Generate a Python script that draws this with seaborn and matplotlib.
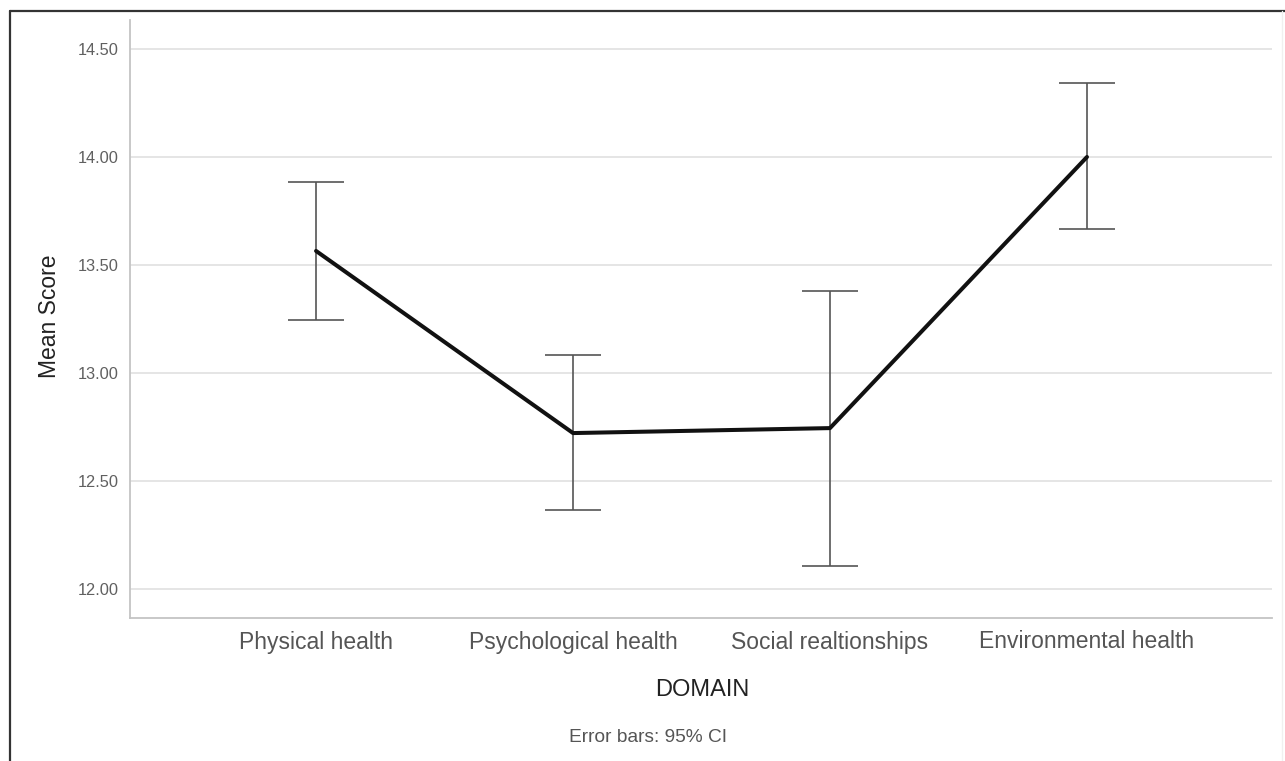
import matplotlib
matplotlib.use("Agg")
import matplotlib.pyplot as plt
import seaborn as sns
import pandas as pd
from matplotlib.lines import Line2D

domains = ["Physical health", "Psychological health", "Social realtionships", "Environmental health"]
mean_score = [13.565, 12.722, 12.745, 14.00]
ci_low = [13.245, 12.366, 12.106, 13.667]
ci_high = [13.884, 13.083, 13.380, 14.343]
yticks = [12.00, 12.50, 13.00, 13.50, 14.00, 14.50]

sns.set_theme(style="white")
plt.rcParams['font.family'] = ['Liberation Sans', 'DejaVu Sans']

W, H = 1285, 761
fig = plt.figure(figsize=(W / 100, H / 100), dpi=100)
ax = fig.add_axes([130 / W, 1 - 618 / H, (1272 - 130) / W, (618 - 20) / H])

df = pd.DataFrame({"pos": range(len(domains)), "mean": mean_score, "lo": ci_low, "hi": ci_high})

ax.errorbar(df["pos"], df["mean"],
            yerr=[df["mean"] - df["lo"], df["hi"] - df["mean"]],
            fmt="none", ecolor="#555555", elinewidth=1.2, capsize=20, capthick=1.2, zorder=2)
sns.lineplot(data=df, x="pos", y="mean", ax=ax, color="#111111", linewidth=2.9, zorder=3)

ax.set_xlim(-0.724, 3.72)
ax.set_ylim(11.866, 14.634)
ax.set_yticks(yticks)
ax.set_yticklabels([f"{v:.2f}" for v in yticks])
ax.set_xticks(range(len(domains)))
ax.set_xticklabels(domains)
ax.yaxis.grid(True, color="#e0e0e0", linewidth=1.2)
ax.xaxis.grid(False)
ax.tick_params(axis="y", labelsize=11.8, labelcolor="#606060", length=0, pad=8)
ax.tick_params(axis="x", labelsize=16.5, labelcolor="#555555", length=0, pad=9)
for s in ["top", "right"]:
    ax.spines[s].set_visible(False)
for s in ["left", "bottom"]:
    ax.spines[s].set_color("#c4c4c4")
    ax.spines[s].set_linewidth(1.3)

ax.set_xlabel("")
ax.set_ylabel("")
fig.text(49 / W, 1 - 316 / H, "Mean Score", rotation=90, ha="center", va="center", fontsize=16.5, color="#222222")
fig.text(702 / W, 1 - 690 / H, "DOMAIN", ha="center", va="center", fontsize=17, color="#222222")
fig.text(648 / W, 1 - 737 / H, "Error bars: 95% CI", ha="center", va="center", fontsize=13.8, color="#555555")

# frame: dark top and left, faint right
x0, xr, yt = 9.5 / W, 1282 / W, 1 - 10.5 / H
fig.lines.append(Line2D([x0, 1.0], [yt, yt], transform=fig.transFigure, color="#333333", linewidth=1.6))
fig.lines.append(Line2D([x0, x0], [0, yt], transform=fig.transFigure, color="#333333", linewidth=1.6))
fig.lines.append(Line2D([xr, xr], [0, yt], transform=fig.transFigure, color="#f0f0f0", linewidth=1.0))

fig.savefig("out.png", dpi=100, facecolor="white")
